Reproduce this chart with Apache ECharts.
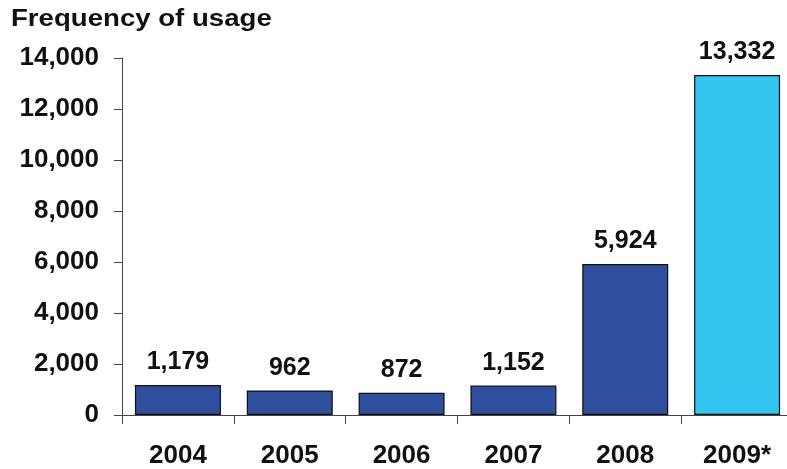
<!DOCTYPE html>
<html>
<head>
<meta charset="utf-8">
<script src="https://cdn.jsdelivr.net/npm/echarts@6/dist/echarts.min.js"></script>
<style>
  html, body { margin: 0; padding: 0; background: #fff; overflow: hidden; }
  #chart { width: 800px; height: 469px; }
</style>
</head>
<body>
<div id="chart"></div>
<script>
// Usage counts per year; the last year is highlighted
const years = ['2004', '2005', '2006', '2007', '2008', '2009*'];
const usage = [1179, 962, 872, 1152, 5924, 13332];
const yTicks = [0, 2000, 4000, 6000, 8000, 10000, 12000, 14000];

const baseColor = '#2F4E9E';
const highlightColor = '#33C4F0';
const fontFamily = 'Arial, "Liberation Sans", Helvetica, sans-serif';

const fmt = v => v.toLocaleString('en-US');

// the plot area runs a few pixels past the right edge of the window
const chart = echarts.init(document.getElementById('chart'), null, { renderer: 'canvas' });
chart.setOption({
  animation: false,
  graphic: [{
    // heading, drawn slightly widened
    type: 'text',
    left: 11,
    top: 8,
    scaleX: 1.2,
    originX: 0,
    style: {
      text: 'Frequency of usage',
      fontFamily, fontSize: 23, fontWeight: 'bold', fill: '#111'
    }
  }],
  grid: { left: 122, top: 58, width: 671, height: 358, containLabel: false },
  xAxis: {
    type: 'category',
    data: years,
    axisLine: { lineStyle: { color: '#444', width: 1 } },
    axisTick: { show: true, length: 9, alignWithLabel: false, lineStyle: { color: '#444' } },
    axisLabel: { margin: 28, fontFamily, fontSize: 26, fontWeight: 'bold', color: '#111' }
  },
  yAxis: {
    type: 'value',
    min: yTicks[0],
    max: yTicks[yTicks.length - 1],
    interval: yTicks[1] - yTicks[0],
    splitLine: { show: false },
    axisLine: { show: true, lineStyle: { color: '#444', width: 1 } },
    axisTick: { show: true, length: 8, lineStyle: { color: '#444' } },
    axisLabel: { margin: 23, fontFamily, fontSize: 26, fontWeight: 'bold', color: '#111', formatter: fmt }
  },
  series: [{
    type: 'bar',
    data: usage.map((v, i) => ({
      value: v,
      itemStyle: { color: i === usage.length - 1 ? highlightColor : baseColor }
    })),
    barWidth: 86,
    itemStyle: { borderColor: '#111', borderWidth: 1.2 },
    label: {
      show: true,
      position: 'top',
      distance: 10,
      fontFamily, fontSize: 25, fontWeight: 'bold', color: '#111',
      formatter: p => fmt(p.value)
    }
  }]
});
</script>
</body>
</html>
